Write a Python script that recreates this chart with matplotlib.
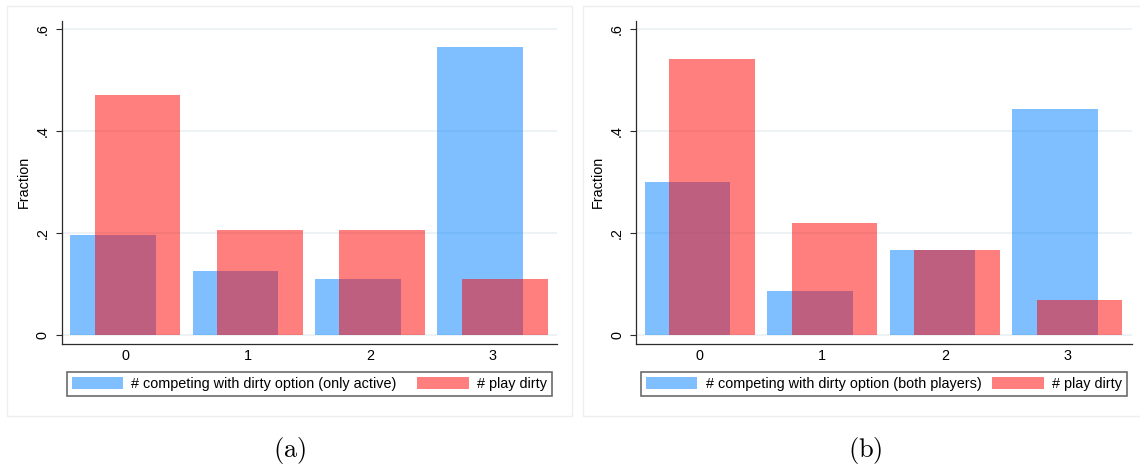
import numpy as np
import matplotlib.pyplot as plt
from matplotlib.patches import Patch, Rectangle

plt.rcParams["font.family"] = ["Liberation Sans", "DejaVu Sans"]
plt.rcParams["mathtext.fontset"] = "cm"

# values
counts = [0, 1, 2, 3]
active_only = [0.196, 0.126, 0.109, 0.565]
play_dirty_a = [0.472, 0.207, 0.207, 0.109]
both_players = [0.300, 0.086, 0.167, 0.444]
play_dirty_b = [0.542, 0.219, 0.167, 0.068]

yticks = [0, 0.2, 0.4, 0.6]
ytick_labels = ["0", ".2", ".4", ".6"]

BLUE = (0.0, 0.5, 1.0, 0.5)
RED = (1.0, 0.0, 0.0, 0.5)
AXIS_COLOR = "#2b2b2b"
GRID_COLOR = "#eaf1f2"
FS = 10.4

W, H = 1140, 468
fig = plt.figure(figsize=(W / 100, H / 100), dpi=100)


def px_box(x0, y0, x1, y1):
    # pixel box (top-left origin) -> figure fraction rect
    return [x0 / W, 1 - y1 / H, (x1 - x0) / W, (y1 - y0) / H]


def panel(rect, blue_vals, red_vals, blue_label, legend_px, caption, cap_x):
    ax = fig.add_axes(rect)
    x = np.array(counts)
    ax.bar(x - 0.1, blue_vals, width=0.7, color=BLUE, linewidth=0)
    ax.bar(x + 0.1, red_vals, width=0.7, color=RED, linewidth=0)

    ax.set_xlim(-0.52, 3.53)
    ax.set_ylim(-0.0177, 0.617)
    ax.set_xticks(counts)
    ax.set_yticks(yticks)
    ax.set_yticklabels(ytick_labels, rotation=90, va="center")
    ax.tick_params(axis="x", length=0, pad=3.6, labelsize=FS, colors="black")
    ax.tick_params(axis="y", length=4.1, width=0.8, pad=4.5, labelsize=FS,
                   color=AXIS_COLOR)
    ax.set_ylabel("Fraction", fontsize=FS, labelpad=3.5)

    ax.set_axisbelow(True)
    ax.grid(axis="y", color=GRID_COLOR, linewidth=1.2)
    for side in ["top", "right"]:
        ax.spines[side].set_visible(False)
    for side in ["left", "bottom"]:
        ax.spines[side].set_color(AXIS_COLOR)
        ax.spines[side].set_linewidth(0.9)

    handles = [Patch(facecolor=BLUE, edgecolor="none"),
               Patch(facecolor=RED, edgecolor="none")]
    lx0, ly0, lx1, ly1 = legend_px
    leg = fig.legend(
        handles, [blue_label, "# play dirty"],
        loc="center", ncol=2, mode="expand",
        bbox_to_anchor=px_box(lx0, ly0, lx1, ly1),
        bbox_transform=fig.transFigure, borderaxespad=0,
        fontsize=FS, handlelength=3.55, handleheight=0.95,
        handletextpad=0.57, borderpad=0.36, fancybox=False,
        framealpha=1, edgecolor="#6b6b6b",
    )
    leg.get_frame().set_linewidth(1.2)

    fig.text(cap_x / W, 1 - 450 / H, caption, fontsize=19,
             ha="center", va="center")
    return ax


panel(px_box(61.7, 20.7, 557.3, 344), active_only, play_dirty_a,
      "# competing with dirty option (only active)",
      (66.7, 370.7, 552, 397), r"$(\mathrm{a})$", 289.5)
panel(px_box(636, 20.7, 1132.3, 344), both_players, play_dirty_b,
      "# competing with dirty option (both players)",
      (641, 370.7, 1127, 397), r"$(\mathrm{b})$", 865)

# light outer frames around each graph
for x0, x1 in [(7.3, 571.7), (582.7, 1145)]:
    fig.patches.append(Rectangle(
        (x0 / W, 1 - 416.3 / H), (x1 - x0) / W, (416.3 - 6) / H,
        transform=fig.transFigure, facecolor="none",
        edgecolor="#eeeeee", linewidth=1,
    ))

fig.savefig("out.png", dpi=100, facecolor="white")
